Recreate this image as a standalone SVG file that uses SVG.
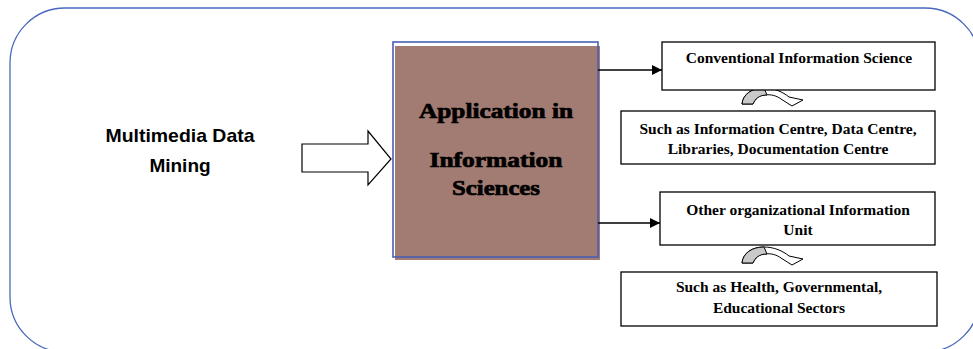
<svg xmlns="http://www.w3.org/2000/svg" width="973" height="349" viewBox="0 0 973 349">
<defs>
<style>
.box{fill:#fff;stroke:#000;stroke-width:1.3}
.t{font-family:"Liberation Serif","Times New Roman",serif;font-weight:bold;font-size:15.5px;fill:#000;text-anchor:middle}
.big{font-family:"Liberation Serif","Times New Roman",serif;font-weight:bold;font-size:21px;fill:#000;stroke:#000;stroke-width:0.7;text-anchor:middle}
.conn{stroke:#000;stroke-width:1.5;fill:none}
.curv{stroke:#000;stroke-width:1;fill:#fff}
</style>
<marker id="ah" markerWidth="10" markerHeight="10" refX="10" refY="5" orient="auto" markerUnits="userSpaceOnUse">
<path d="M0,0 L10,5 L0,10 Z" fill="#000"/>
</marker>
<g id="curved">
<path class="curv" d="M742,104 C743,94 752,88 764,88 C774,88 783,92 789,97 L803,100 L792,106 L781,99 C777,96 771,94 765,95 C759,95 755,99 753,104 Z"/>
<path d="M742,104 C743,94 752,88 764,88 L767,95 C759,95 755,99 753,104 Z" fill="#c9c9c9" stroke="#000" stroke-width="1"/>
</g>
</defs>
<rect width="973" height="349" fill="#fff"/>
<g id="frame">
<rect x="10" y="8" width="970" height="344" rx="55" ry="55" fill="none" stroke="#4a68bd" stroke-width="1.3"/>
</g>
<g id="source">
<text x="180" y="142" font-family="'Liberation Sans',Arial,sans-serif" font-weight="bold" font-size="19" text-anchor="middle" textLength="149" lengthAdjust="spacingAndGlyphs">Multimedia Data</text>
<text x="180" y="172" font-family="'Liberation Sans',Arial,sans-serif" font-weight="bold" font-size="19" text-anchor="middle">Mining</text>
</g>
<g id="bigarrow">
<path d="M302,144 L368,144 L368,131 L391,159 L368,185 L368,172 L302,172 Z" fill="#fff" stroke="#000" stroke-width="1.2"/>
</g>
<g id="center">
<rect x="395" y="46" width="205" height="214" fill="#a27b72"/>
<rect x="393" y="42" width="205" height="215" fill="none" stroke="#4a5fb5" stroke-width="1.6"/>
<text class="big" x="496" y="118" textLength="154" lengthAdjust="spacingAndGlyphs">Application in</text>
<text class="big" x="496" y="167" textLength="133" lengthAdjust="spacingAndGlyphs">Information</text>
<text class="big" x="496" y="195" textLength="88" lengthAdjust="spacingAndGlyphs">Sciences</text>
</g>
<g id="connectors">
<line class="conn" x1="598" y1="70" x2="662" y2="70" marker-end="url(#ah)"/>
<line class="conn" x1="598" y1="223" x2="660" y2="223" marker-end="url(#ah)"/>
<use href="#curved"/>
<use href="#curved" transform="translate(0,159)"/>
</g>
<g id="box1">
<rect class="box" x="662" y="42" width="273" height="48"/>
<text class="t" x="799" y="63">Conventional Information Science</text>
</g>
<g id="box2">
<rect class="box" x="621" y="111" width="314" height="53"/>
<text class="t" x="778" y="134">Such as Information Centre, Data Centre,</text>
<text class="t" x="778" y="154">Libraries, Documentation Centre</text>
</g>
<g id="box3">
<rect class="box" x="660" y="192" width="275" height="53"/>
<text class="t" x="798" y="215">Other organizational Information</text>
<text class="t" x="798" y="235">Unit</text>
</g>
<g id="box4">
<rect class="box" x="621" y="272" width="316" height="54"/>
<text class="t" x="779" y="292">Such as Health, Governmental,</text>
<text class="t" x="779" y="313">Educational Sectors</text>
</g>
</svg>
